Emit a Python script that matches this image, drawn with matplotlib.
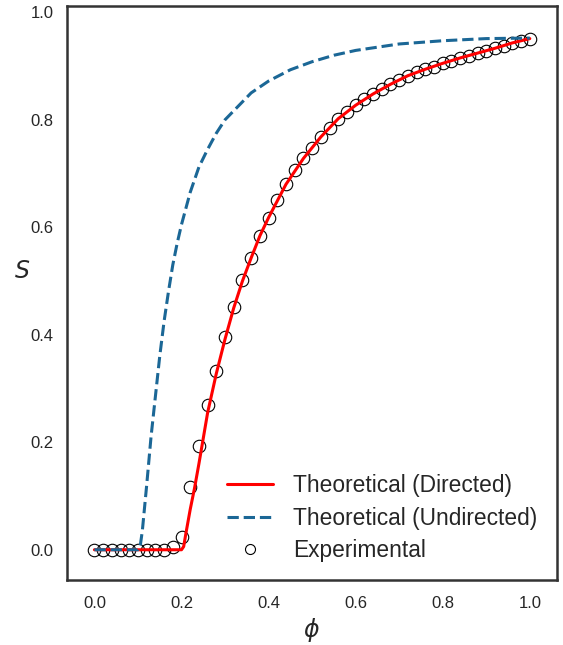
import numpy as np
import matplotlib.pyplot as plt
import seaborn as sns

sns.set_style("white")
plt.rcParams['font.family'] = ['Liberation Sans', 'DejaVu Sans']
plt.rcParams['mathtext.fontset'] = 'dejavusans'

# Experimental giant-component fraction, sampled every 0.02 in phi
phi_exp = np.linspace(0.0, 1.0, 51)
S_exp = [0.0, 0.0, 0.0, 0.0, 0.0, 0.0, 0.0, 0.0, 0.0, 0.006,
         0.024, 0.117, 0.193, 0.270, 0.333, 0.395, 0.451, 0.502, 0.543, 0.584,
         0.618, 0.650, 0.680, 0.706, 0.728, 0.748, 0.768, 0.785, 0.802, 0.815,
         0.827, 0.838, 0.848, 0.857, 0.866, 0.874, 0.882, 0.888, 0.894, 0.899,
         0.905, 0.910, 0.915, 0.919, 0.924, 0.928, 0.933, 0.938, 0.943, 0.947,
         0.951]

# Theory, directed network
phi_dir = [0.0, 0.20, 0.205, 0.21, 0.22, 0.23, 0.24, 0.26, 0.28, 0.30,
           0.32, 0.34, 0.36, 0.38, 0.40, 0.44, 0.48, 0.52, 0.56, 0.60,
           0.64, 0.68, 0.72, 0.76, 0.80, 0.84, 0.88, 0.92, 0.96, 1.00]
S_dir = [0.0, 0.0, 0.006, 0.03, 0.075, 0.115, 0.16, 0.255, 0.328, 0.392,
         0.450, 0.500, 0.543, 0.584, 0.618, 0.680, 0.728, 0.768, 0.802, 0.827,
         0.848, 0.866, 0.882, 0.894, 0.905, 0.915, 0.924, 0.933, 0.943, 0.951]

# Theory, undirected network
phi_und = [0.0, 0.10, 0.105, 0.11, 0.12, 0.13, 0.14, 0.15, 0.16, 0.17,
           0.18, 0.19, 0.20, 0.22, 0.24, 0.26, 0.28, 0.30, 0.33, 0.36,
           0.40, 0.45, 0.50, 0.55, 0.60, 0.70, 0.80, 0.90, 1.00]
S_und = [0.0, 0.0, 0.006, 0.035, 0.12, 0.21, 0.285, 0.36, 0.425, 0.48,
         0.53, 0.57, 0.605, 0.665, 0.712, 0.745, 0.775, 0.80, 0.825, 0.85,
         0.872, 0.893, 0.908, 0.920, 0.929, 0.941, 0.947, 0.951, 0.952]

fig = plt.figure(figsize=(5.63, 6.45), dpi=100)
ax = fig.add_axes([0.119, 0.101, 0.870, 0.890])

ax.plot(phi_exp, S_exp, 'o', ms=9, mfc='none', mec='black', mew=0.8,
        label='Experimental', zorder=2)
ax.plot(phi_dir, S_dir, color='red', lw=2.2, label='Theoretical (Directed)', zorder=3)
ax.plot(phi_und, S_und, '--', color='#1b6796', lw=2.2,
        label='Theoretical (Undirected)', zorder=4)

ax.set_xlim(-0.063, 1.062)
ax.set_ylim(-0.056, 1.012)
ax.set_xticks([0.0, 0.2, 0.4, 0.6, 0.8, 1.0])
ax.set_yticks([0.0, 0.2, 0.4, 0.6, 0.8, 1.0])
ax.tick_params(labelsize=12, colors='#262626')
ax.tick_params(axis='x', pad=8)
ax.tick_params(axis='y', pad=6)

ax.set_xlabel(r'$\phi$', fontsize=17, color='#262626', labelpad=4)
ax.set_ylabel(r'$S$', fontsize=17, rotation=0, color='#262626')
ax.yaxis.set_label_coords(-0.092, 0.517)

for sp in ax.spines.values():
    sp.set_color('#333333')
    sp.set_linewidth(1.8)

handles, labels = ax.get_legend_handles_labels()
order = [1, 2, 0]
ax.legend([handles[i] for i in order], [labels[i] for i in order],
          loc='lower right', bbox_to_anchor=(0.992, 0.003), frameon=False,
          fontsize=16.4, markerscale=0.8, handlelength=2.0, handletextpad=0.88,
          labelspacing=0.42, borderaxespad=0.3)

fig.savefig('out.png', dpi=100)
